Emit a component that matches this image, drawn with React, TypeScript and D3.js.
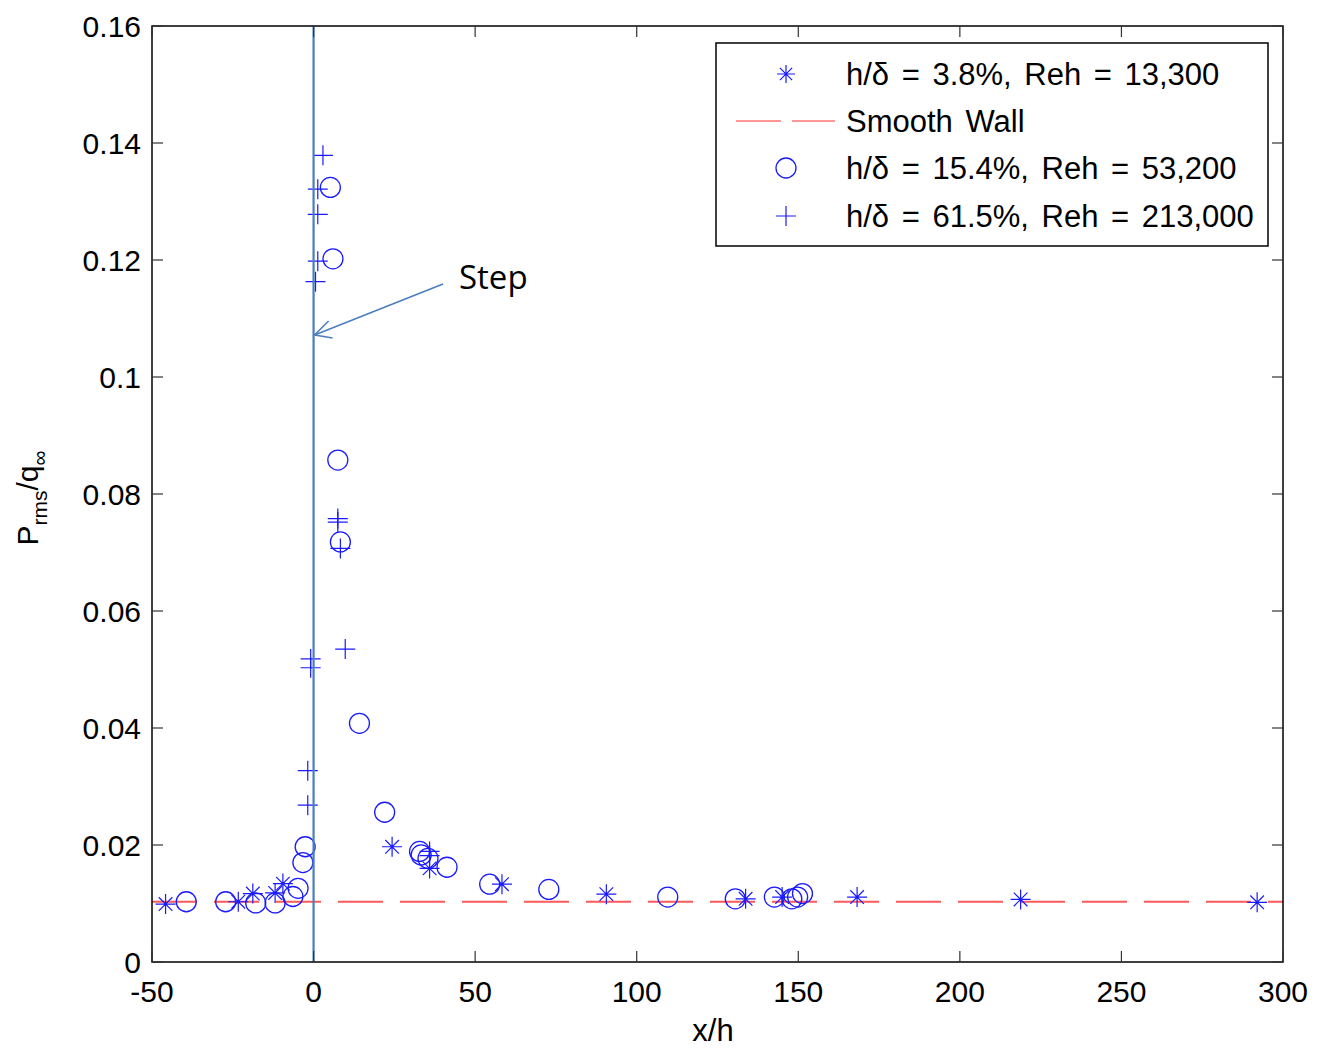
import React from "react";
import * as d3 from "d3";

const xTicks = [-50, 0, 50, 100, 150, 200, 250, 300];
const yTicks = [0, 0.02, 0.04, 0.06, 0.08, 0.1, 0.12, 0.14, 0.16];

// h/δ = 3.8%, Reh = 13,300 (asterisks)
const series1X = [-45.8, -23.3, -18.8, -11.9, -9.5, 24.3, 35.9, 58.3, 90.6, 133.7, 145.0, 168.2, 218.8, 292.0];
const series1Y = [0.0099, 0.0103, 0.0117, 0.0118, 0.0134, 0.0197, 0.0160, 0.0133, 0.0116, 0.0108, 0.0111, 0.0111, 0.0107, 0.0102];

// h/δ = 15.4%, Reh = 53,200 (circles)
const series2X = [-39.4, -27.2, -17.9, -11.9, -6.4, -4.8, -3.3, -2.6, 5.2, 6.0, 7.5, 8.3, 14.2, 22.0, 32.8, 33.3, 35.4, 41.3, 54.5, 72.8, 109.6, 130.5, 142.6, 148.0, 149.8, 151.3];
const series2Y = [0.0103, 0.0103, 0.0101, 0.0101, 0.0112, 0.0126, 0.0170, 0.0197, 0.1324, 0.1202, 0.0858, 0.0718, 0.0408, 0.0256, 0.0189, 0.0183, 0.0177, 0.0162, 0.0133, 0.0124, 0.0111, 0.0108, 0.0111, 0.0108, 0.0111, 0.0117];

// h/δ = 61.5%, Reh = 213,000 (plus)
const series3X = [2.9, 1.3, 1.3, 1.3, 0.6, 7.5, 7.5, 8.3, 9.8, -0.9, -0.9, -1.8, -1.8, 35.9, 35.9];
const series3Y = [0.1379, 0.1321, 0.1278, 0.1198, 0.1163, 0.0758, 0.0752, 0.0707, 0.0535, 0.0518, 0.0503, 0.0327, 0.0268, 0.0189, 0.0182];

const smoothWall = 0.0103;

const legendLabels = [
  "h/δ = 3.8%, Reh = 13,300",
  "Smooth Wall",
  "h/δ = 15.4%, Reh = 53,200",
  "h/δ = 61.5%, Reh = 213,000",
];

const W = 1317;
const H = 1048;
const L = 152, R = 1283, T = 26, B = 962;
const MARK = "#1a1aff";
const STEP = "#4a7ebf";
const FONT = "'Liberation Sans', Arial, sans-serif";

function Asterisk({ x, y, s = 10 }: { x: number; y: number; s?: number }) {
  const d = s * 0.68;
  return (
    <path
      d={`M${x - s},${y}H${x + s}M${x},${y - s}V${y + s}M${x - d},${y - d}L${x + d},${y + d}M${x - d},${y + d}L${x + d},${y - d}`}
      stroke={MARK}
      strokeWidth={1.2}
      fill="none"
    />
  );
}
function Plus({ x, y, s = 10 }: { x: number; y: number; s?: number }) {
  return (
    <path d={`M${x - s},${y}H${x + s}M${x},${y - s}V${y + s}`} stroke={MARK} strokeWidth={1.2} fill="none" />
  );
}
function Circle({ x, y, r = 10 }: { x: number; y: number; r?: number }) {
  return <circle cx={x} cy={y} r={r} stroke={MARK} strokeWidth={1.3} fill="none" />;
}

export default function App() {
  const x = d3.scaleLinear().domain([-50, 300]).range([L, R]);
  const y = d3.scaleLinear().domain([0, 0.16]).range([B, T]);
  const tickLen = 11;
  const legX = 716, legY = 43, legW = 552, legH = 203;
  const rowY = [74, 121, 168, 216];

  return (
    <svg width={W} height={H} style={{ position: "absolute", left: 0, top: 0, background: "#fff" }} fontFamily={FONT}>
      <rect x={0} y={0} width={W} height={H} fill="#fff" />
      {/* smooth wall dashed line */}
      <line x1={x(-50)} x2={x(300)} y1={y(smoothWall)} y2={y(smoothWall)} stroke="#ff5a5a" strokeWidth={2} strokeDasharray="45 17" />

      {/* markers */}
      {series2X.map((v, i) => <Circle key={"c" + i} x={x(v)} y={y(series2Y[i])} />)}
      {series1X.map((v, i) => <Asterisk key={"a" + i} x={x(v)} y={y(series1Y[i])} />)}
      {series3X.map((v, i) => <Plus key={"p" + i} x={x(v)} y={y(series3Y[i])} />)}

      {/* step line */}
      <line x1={x(0)} x2={x(0)} y1={T} y2={B} stroke={STEP} strokeWidth={2.2} />
      {/* arrow */}
      <line x1={443} y1={284} x2={x(0) + 1} y2={335} stroke={STEP} strokeWidth={1.5} />
      <path d={`M${x(0) + 15},${321}L${x(0) + 1},${335}L${x(0) + 19},${338}`} stroke={STEP} strokeWidth={1.5} fill="none" />
      <text x={459} y={289} fontFamily="'Open Sans', Lato, sans-serif" fontSize={33} fill="#000">Step</text>

      {/* axes box */}
      <rect x={L} y={T} width={R - L} height={B - T} fill="none" stroke="#000" strokeWidth={1.5} />
      {xTicks.map((t) => (
        <g key={"xt" + t}>
          <line x1={x(t)} x2={x(t)} y1={B} y2={B - tickLen} stroke="#333" strokeWidth={1.2} />
          <line x1={x(t)} x2={x(t)} y1={T} y2={T + tickLen} stroke="#333" strokeWidth={1.2} />
          <text x={x(t)} y={1002} textAnchor="middle" fontSize={30} fill="#000">{t}</text>
        </g>
      ))}
      {yTicks.map((t) => (
        <g key={"yt" + t}>
          <line x1={L} x2={L + tickLen} y1={y(t)} y2={y(t)} stroke="#333" strokeWidth={1.2} />
          <line x1={R} x2={R - tickLen} y1={y(t)} y2={y(t)} stroke="#333" strokeWidth={1.2} />
          <text x={141} y={y(t) + 11} textAnchor="end" fontSize={30} fill="#000">{String(t)}</text>
        </g>
      ))}

      {/* axis labels */}
      <text x={713} y={1041} textAnchor="middle" fontSize={31} fill="#000">x/h</text>
      <text transform="translate(38,498) rotate(-90)" textAnchor="middle" fontSize={30} fill="#000">
        P<tspan fontSize={21} dy={9}>rms</tspan><tspan dy={-9}>/q</tspan><tspan fontSize={21} dy={9}>∞</tspan>
      </text>

      {/* legend */}
      <rect x={legX} y={legY} width={legW} height={legH} fill="#fff" stroke="#000" strokeWidth={1.5} />
      <Asterisk x={786} y={rowY[0]} s={9} />
      <line x1={736} x2={835} y1={rowY[1]} y2={rowY[1]} stroke="#ff3030" strokeWidth={1.2} strokeDasharray="45 11" />
      <Circle x={786} y={rowY[2]} r={10} />
      <Plus x={786} y={rowY[3]} s={10} />
      {legendLabels.map((lab, i) => (
        <text key={"l" + i} x={846} y={rowY[i] + 11} fontSize={31} wordSpacing={4} fill="#000">{lab}</text>
      ))}
    </svg>
  );
}
